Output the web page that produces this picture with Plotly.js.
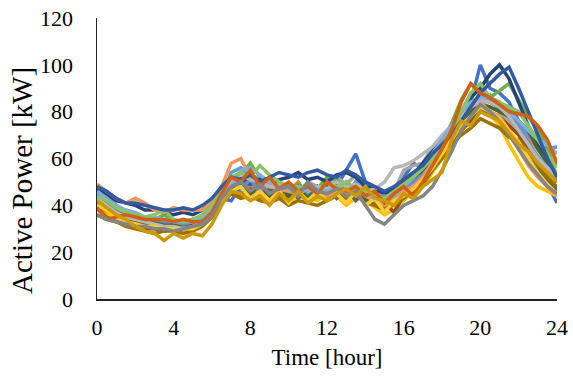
<!DOCTYPE html>
<html>
<head>
<meta charset="utf-8">
<script src="https://cdn.plot.ly/plotly-3.0.1.min.js"></script>
<style>
  html, body { margin: 0; padding: 0; background: #fff; }
  #chart { width: 573px; height: 378px; }
</style>
</head>
<body>
<div id="chart"></div>
<script>
// Half-hourly active power profiles [kW], 0:00 .. 24:00 (49 samples each)
const stepHours = 0.5;

const load01 = [46,44,40,37,35,34,33,32,31,33,32,34,38,43,42,48,45,47,44,46,43,45,47,44,50,48,55,62,50,47,41,45,52,58,56,62,66,70,76,84,100,90,88,84,76,68,58,49,41];
const load02 = [40,37,36,35,33,32,31,30,31,29,31,33,37,44,48,44,49,43,48,44,46,50,44,48,43,49,44,50,45,46,41,45,47,50,52,58,63,68,73,80,85,86,84,80,74,69,64,60,57];
const load03 = [44,41,38,36,35,35,33,33,32,33,33,36,41,47,52,50,51,48,49,47,46,45,50,48,47,52,49,53,47,45,44,46,55,57,58,65,67,72,76,80,84,82,80,76,72,66,60,56,52];
const load04 = [38,36,34,32,31,31,30,31,30,29,31,32,36,42,46,45,43,44,42,45,41,44,43,42,45,44,40,43,42,39,36,38,42,46,48,54,60,66,72,78,80,79,74,66,59,52,48,46,44];
const load05 = [43,40,38,37,34,33,32,32,31,31,32,34,37,43,54,56,53,51,50,48,47,46,45,47,46,48,45,50,44,43,41,44,48,50,54,60,66,70,74,80,85,87,80,82,74,70,66,64,65];
const load06 = [41,39,37,35,35,33,34,36,33,32,33,35,40,46,51,53,58,52,50,48,47,49,46,47,52,51,45,48,47,44,43,45,48,51,55,62,67,75,85,92,88,86,89,92,85,78,72,65,52];
const load07 = [47,45,42,41,40,38,38,37,36,37,36,38,42,47,50,52,50,51,49,51,52,54,51,52,50,53,54,52,48,47,45,47,50,53,58,63,68,74,80,86,90,96,100,94,84,74,66,58,50];
const load08 = [36,34,33,32,31,30,30,29,30,30,30,32,36,42,45,44,44,43,42,44,43,45,42,44,43,46,44,45,43,42,41,37,44,47,50,56,62,68,72,76,80,80,78,74,70,64,58,52,47];
const load09 = [45,41,37,35,33,32,31,30,31,30,31,33,38,45,49,45,47,43,47,44,48,43,47,44,48,43,47,42,46,40,38,43,45,47,51,57,63,69,74,78,81,80,77,72,66,60,55,50,46];
const load10 = [39,35,33,31,30,29,28,29,29,28,29,31,35,41,45,43,44,42,41,43,40,42,41,40,42,44,43,45,41,40,39,40,43,46,49,55,60,66,70,73,77,75,73,69,68,63,57,52,48];
const load11 = [44,42,39,37,36,34,34,33,32,33,34,35,39,46,52,50,49,50,48,47,49,46,48,47,46,48,47,49,45,44,42,45,48,51,55,61,68,73,79,83,86,84,82,78,72,66,60,56,50];
const load12 = [42,39,37,36,34,33,33,32,31,32,32,34,38,44,47,50,45,49,44,49,44,48,43,48,43,49,44,48,42,45,41,45,50,52,54,60,66,70,74,80,83,82,80,78,76,72,64,58,52];
const load13 = [45,42,39,37,36,35,34,33,33,32,33,35,39,45,50,47,51,46,50,45,49,45,49,44,50,46,50,45,48,43,44,42,47,50,53,58,64,70,77,82,86,85,83,79,73,67,61,56,50];
const load14 = [49,46,43,41,43,41,38,37,39,38,38,38,42,48,58,60,52,50,48,47,46,45,47,46,44,46,45,47,44,42,40,43,46,48,52,58,64,70,76,82,84,80,78,72,64,57,52,48,44];
const load15 = [43,40,37,35,34,33,32,31,31,30,31,33,37,44,50,53,51,50,48,49,47,48,46,48,47,50,48,49,46,47,50,56,57,59,62,65,70,74,78,82,85,84,82,78,72,66,60,56,52];
const load16 = [40,38,35,33,32,31,31,30,30,30,30,32,36,42,46,48,43,46,42,46,41,46,42,46,42,45,41,46,40,43,37,42,44,47,51,56,62,68,74,78,82,80,77,72,67,60,54,49,45];
const load17 = [46,43,40,38,37,35,35,34,33,33,33,35,38,44,48,55,56,53,50,48,47,48,46,47,46,48,46,48,45,43,42,44,48,52,56,62,68,74,80,84,86,86,84,80,76,72,68,66,62];
const load18 = [44,42,39,37,36,35,36,38,34,33,34,36,40,47,52,54,52,57,53,50,48,47,49,46,45,48,50,47,46,44,43,46,49,52,56,60,66,72,80,88,92,86,84,82,80,74,68,62,56];
const load19 = [48,46,43,41,41,40,39,38,38,39,38,40,43,48,52,51,53,50,52,54,53,52,54,55,53,52,55,53,50,48,46,48,51,54,57,62,66,70,76,82,88,92,96,99,90,80,70,60,52];
const load20 = [39,34,35,36,35,34,34,34,33,34,33,33,37,45,52,50,55,48,52,47,50,46,48,45,50,47,46,48,44,46,41,45,48,44,50,57,64,72,84,92,88,86,83,80,79,78,74,68,58];
const load21 = [36,34,33,32,31,31,30,30,29,30,31,32,35,43,48,50,46,49,45,47,48,44,50,46,45,47,44,46,40,34,32,36,40,42,44,48,55,63,72,78,83,80,76,70,64,58,53,48,45];
const load22 = [42,39,36,34,31,29,28,25,28,26,28,27,32,40,46,45,42,44,40,45,42,46,41,44,42,45,47,44,48,43,42,40,45,43,48,51,54,68,76,74,80,78,76,71,66,63,58,54,50];

const profiles = [load01, load02, load03, load04, load05, load06, load07, load08, load09, load10, load11,
                  load12, load13, load14, load15, load16, load17, load18, load19, load20, load21, load22];

// Office-style series palette, one colour per profile
const palette = ['#4472C4','#ED7D31','#A5A5A5','#FFC000','#5B9BD5','#70AD47','#264478','#9E480E','#636363','#997300','#255E91',
                 '#43682B','#698ED0','#F1975A','#B7B7B7','#FFCD33','#7CAFDD','#8CC168','#335AA1','#D26012','#848484','#CC9A00'];

const xTicks = [0, 4, 8, 12, 16, 20, 24];
const yTicks = [0, 20, 40, 60, 80, 100, 120];

const serif = 'Liberation Serif';

const traces = profiles.map((vals, k) => ({
  type: 'scatter',
  mode: 'lines',
  x: vals.map((_, i) => i * stepHours),
  y: vals,
  line: { color: palette[k], width: 3.5 },
  showlegend: false,
  hoverinfo: 'skip'
}));

const layout = {
  width: 573,
  height: 378,
  margin: { l: 97, r: 16, t: 18, b: 79 },
  paper_bgcolor: '#ffffff',
  plot_bgcolor: '#ffffff',
  font: { family: serif, color: '#000', size: 22 },
  showlegend: false,
  xaxis: {
    range: [0, 24],
    tickvals: xTicks,
    ticktext: xTicks.map(String),
    showgrid: false,
    zeroline: false,
    showline: true,
    linecolor: '#222',
    linewidth: 1.5,
    ticks: '',
    ticklabelstandoff: 8,
    tickfont: { family: serif, size: 22, color: '#000' },
    title: { text: 'Time [hour]', font: { family: serif, size: 23, color: '#000' }, standoff: 10 },
    automargin: false
  },
  yaxis: {
    range: [0, 120],
    tickvals: yTicks,
    ticktext: yTicks.map(String),
    showgrid: false,
    zeroline: false,
    showline: true,
    linecolor: '#222',
    linewidth: 1.5,
    ticks: '',
    ticklabelstandoff: 18,
    tickfont: { family: serif, size: 22, color: '#000' },
    automargin: false
  },
  // vertical axis caption, set a little below the plot centre
  annotations: [{
    text: 'Active Power [kW]',
    textangle: -90,
    xref: 'paper', yref: 'paper',
    x: 0, y: 0.42,
    xanchor: 'center', yanchor: 'middle',
    xshift: -75,
    showarrow: false,
    font: { family: serif, size: 29, color: '#000' }
  }]
};

Plotly.newPlot('chart', traces, layout, { staticPlot: true, displayModeBar: false });
</script>
</body>
</html>
